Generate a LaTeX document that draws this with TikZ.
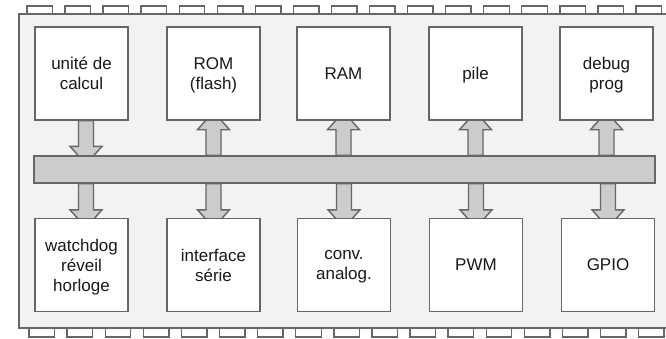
\documentclass[tikz,border=0pt]{standalone}
\usepackage{fontspec}
\setmainfont{Liberation Sans}
\usetikzlibrary{calc}
\pgfdeclarelayer{chip}
\pgfdeclarelayer{links}
\pgfsetlayers{chip,links,main}
\definecolor{edge}{HTML}{666666}
\definecolor{bodyfill}{HTML}{F2F2F2}
\definecolor{busfill}{HTML}{CCCCCC}
\tikzset{
  unit/.style={draw=edge, line width=1.4pt, fill=white, minimum width=93pt,
    minimum height=93pt, inner sep=0pt, align=center, text depth=0pt,
    font=\fontsize{17}{20}\selectfont, text=black!90},
  busbar/.style={draw=edge, line width=1.4pt, fill=busfill, minimum width=621pt,
    minimum height=27pt, inner sep=0pt},
  busarrow/.style={draw=edge, line width=1.4pt, fill=busfill, line join=miter},
  pin/.style={draw=edge, line width=1.4pt, fill=white},
  chipbody/.style={draw=edge, line width=1.6pt, fill=bodyfill},
}
% block arrow from a tail point to a tip point (vertical only)
\newcommand\fatarrow[2]{%
  \path (#1) coordinate (fa-tail) (#2) coordinate (fa-tip)
        ($(fa-tip)!18pt!(fa-tail)$) coordinate (fa-sh);
  \draw[busarrow] let \p1=(fa-tail), \p2=(fa-tip), \p3=(fa-sh) in
    (\x1-7.5pt,\y1) -- (\x1-7.5pt,\y3) -- (\x1-16pt,\y3) -- (\x2,\y2)
    -- (\x1+16pt,\y3) -- (\x1+7.5pt,\y3) -- (\x1+7.5pt,\y1) -- cycle;}
\begin{document}
\begin{tikzpicture}[x=1pt,y=-1pt]
\useasboundingbox (0,0) rectangle (666,338);
\clip (0,0) rectangle (666,338);

% functional units, top row
\node[unit] (u1) at (81.5,73.5) {unité de\\calcul};
\node[unit] (u2) at (213.5,73.5) {ROM\\(flash)};
\node[unit] (u3) at (343.5,73.5) {RAM};
\node[unit] (u4) at (475.5,73.5) {pile};
\node[unit] (u5) at (606.5,73.5) {debug\\prog};

% internal bus
\node[busbar] (bus) at (344.5,169.5) {};

% peripherals, bottom row
\node[unit] (b1) at (81.5,265) {watchdog\\réveil\\horloge};
\node[unit] (b2) at (213.5,265) {interface\\série};
\node[unit] (b3) at (344,265) {conv.\\analog.};
\node[unit] (b4) at (476,265) {PWM};
\node[unit] (b5) at (608,265) {GPIO};

% package with its pins
\begin{pgfonlayer}{chip}
  \foreach \i in {0,...,16} {
    \draw[pin] ({27+38.06*\i},6) rectangle ++(25.5,8);
    \draw[pin] ({29+38.1*\i},328) rectangle ++(25.5,9);
  }
  \draw[chipbody] (19,14) rectangle (690,328);
\end{pgfonlayer}

% bus transfers
\begin{pgfonlayer}{links}
  \fatarrow{$(u1.south)+(4.5,0)$}{$(u1.south |- bus.north)+(4.5,9)$}
  \fatarrow{u2.south |- bus.north}{$(u2.south)+(0,-9)$}
  \fatarrow{u3.south |- bus.north}{$(u3.south)+(0,-9)$}
  \fatarrow{u4.south |- bus.north}{$(u4.south)+(0,-9)$}
  \fatarrow{u5.south |- bus.north}{$(u5.south)+(0,-9)$}
  \fatarrow{$(b1.north |- bus.south)+(4.5,0)$}{$(b1.north)+(4.5,10)$}
  \fatarrow{b2.north |- bus.south}{$(b2.north)+(0,10)$}
  \fatarrow{b3.north |- bus.south}{$(b3.north)+(0,10)$}
  \fatarrow{b4.north |- bus.south}{$(b4.north)+(0,10)$}
  \fatarrow{b5.north |- bus.south}{$(b5.north)+(0,10)$}
\end{pgfonlayer}
\end{tikzpicture}
\end{document}
